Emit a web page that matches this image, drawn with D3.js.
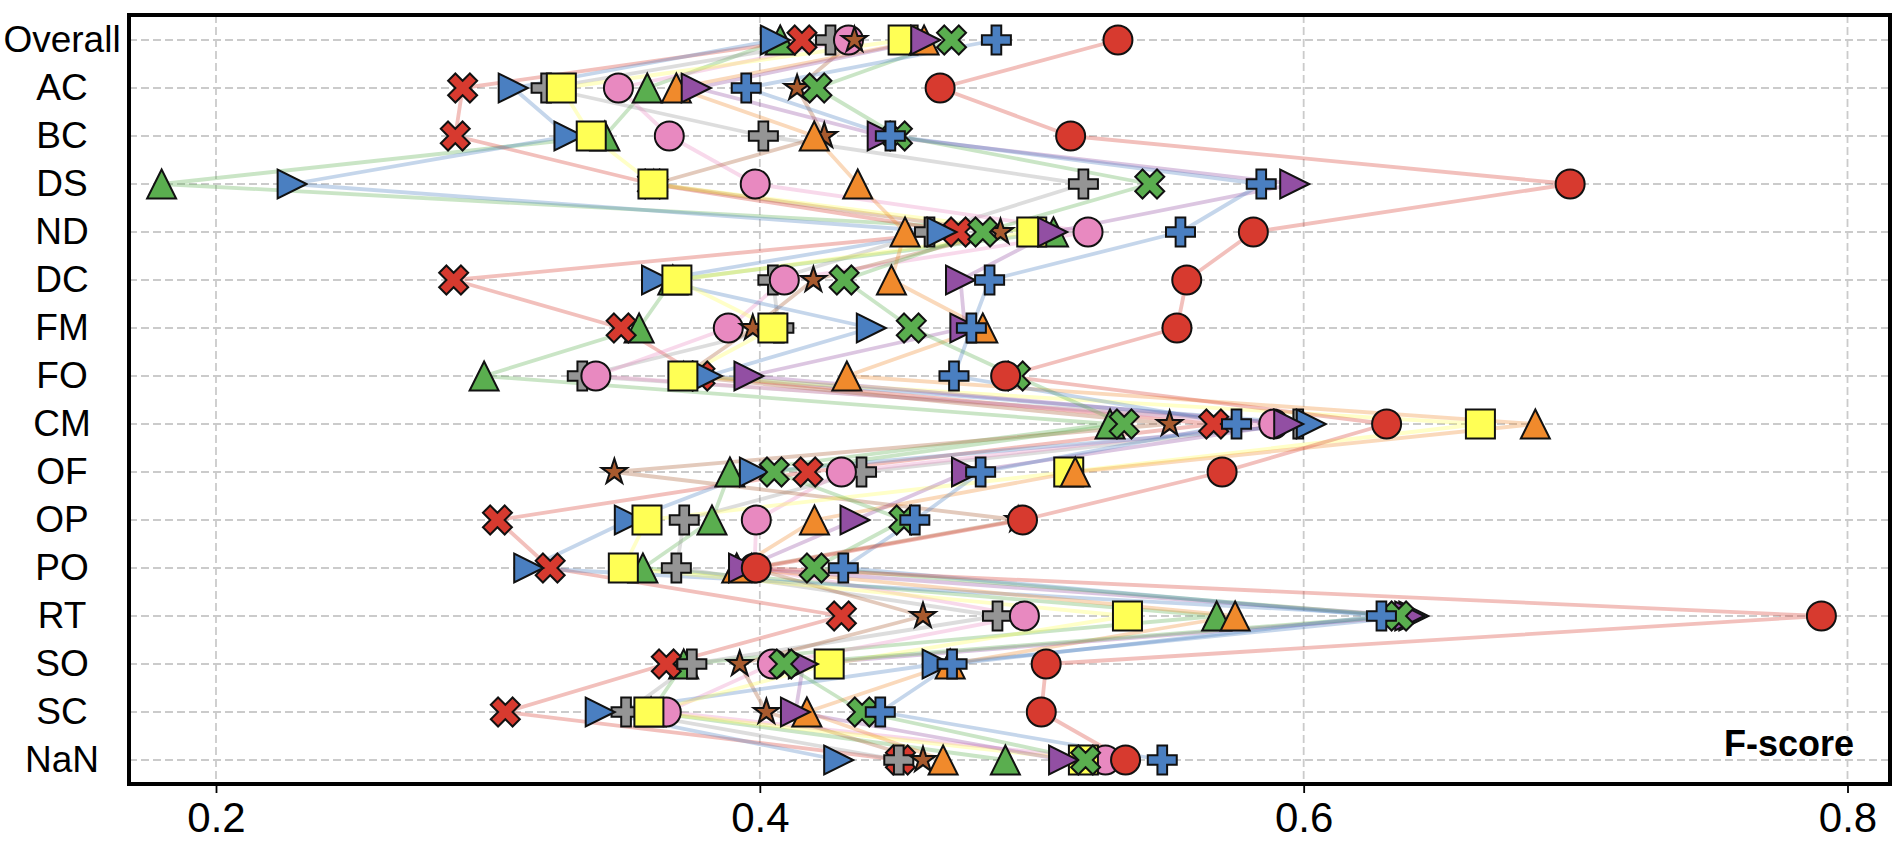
<!DOCTYPE html>
<html>
<head>
<meta charset="utf-8">
<script src="https://cdn.jsdelivr.net/npm/d3@7"></script>
<style>
  body { margin: 0; background: #fff; }
  svg { display: block; font-family: "Liberation Sans", Arial, sans-serif; }
</style>
</head>
<body>
<div class="chart"></div>
<script>
// categories, top to bottom
const ROWS = ["Overall", "AC", "BC", "DS", "ND", "DC", "FM", "FO", "CM", "OF", "OP", "PO", "RT", "SO", "SC", "NaN"];
const X_TICKS = [0.2, 0.4, 0.6, 0.8];

// F-score per category, one array per series
const greenTri   = [0.4075, 0.3586, 0.343, 0.180, 0.508, 0.368, 0.3556, 0.2986, 0.5288, 0.389, 0.3824, 0.357, 0.568, 0.372, 0.360, 0.4903];
const redX       = [0.4155, 0.2907, 0.288, 0.3605, 0.473, 0.2874, 0.349, 0.378, 0.5669, 0.4177, 0.3035, 0.3229, 0.430, 0.3656, 0.3064, 0.4517];
const grayPlus   = [0.426, 0.3214, 0.4013, 0.519, 0.4624, 0.4048, 0.407, 0.3347, 0.598, 0.4374, 0.3722, 0.3693, 0.4874, 0.375, 0.3508, 0.4511];
const pinkCircle = [0.4326, 0.348, 0.3667, 0.3983, 0.5207, 0.409, 0.3884, 0.3397, 0.589, 0.430, 0.3987, 0.398, 0.4973, 0.4046, 0.3656, 0.5271];
const brownStar  = [0.4348, 0.4137, 0.4237, 0.361, 0.4885, 0.4197, 0.3974, 0.372, 0.5507, 0.3465, 0.495, 0.397, 0.460, 0.3926, 0.4024, 0.460];
const blueTri    = [0.4057, 0.3093, 0.3298, 0.228, 0.467, 0.362, 0.441, 0.3807, 0.6028, 0.398, 0.352, 0.315, 0.6405, 0.4652, 0.3413, 0.429];
const yellowSq   = [0.4527, 0.327, 0.338, 0.3607, 0.500, 0.3695, 0.4048, 0.3717, 0.665, 0.5136, 0.3585, 0.3498, 0.5352, 0.4255, 0.3592, 0.519];
const orangeTri  = [0.4604, 0.3693, 0.420, 0.436, 0.4534, 0.4484, 0.482, 0.432, 0.6852, 0.516, 0.4201, 0.3915, 0.5748, 0.470, 0.4173, 0.4674];
const purpleTri  = [0.461, 0.3766, 0.445, 0.5967, 0.5077, 0.4738, 0.4754, 0.396, 0.5945, 0.476, 0.435, 0.394, 0.639, 0.416, 0.4131, 0.5117];
const greenX     = [0.4705, 0.421, 0.4506, 0.5434, 0.482, 0.431, 0.4557, 0.494, 0.534, 0.4053, 0.453, 0.420, 0.635, 0.4089, 0.4376, 0.5198];
const bluePlus   = [0.487, 0.395, 0.448, 0.5844, 0.5547, 0.4845, 0.4778, 0.4714, 0.5753, 0.4812, 0.457, 0.4307, 0.6286, 0.4707, 0.4443, 0.548];
const redCircle  = [0.5317, 0.4663, 0.5143, 0.698, 0.5815, 0.557, 0.5534, 0.4904, 0.6305, 0.570, 0.4966, 0.3987, 0.7904, 0.5053, 0.5035, 0.5345];

// marker shapes, sized by full width like matplotlib markers
const mCircle = { draw(c, s) { c.arc(0, 0, s / 2, 0, 2 * Math.PI); } };
const mSquare = { draw(c, s) { c.rect(-s / 2, -s / 2, s, s); } };
const mTriUp = { draw(c, s) { c.moveTo(0, -s / 2); c.lineTo(s / 2, s / 2); c.lineTo(-s / 2, s / 2); c.closePath(); } };
const mTriRight = { draw(c, s) { c.moveTo(s / 2, 0); c.lineTo(-s / 2, s / 2); c.lineTo(-s / 2, -s / 2); c.closePath(); } };
const mStar = { draw(c, s) {
  const ro = s * 0.46, ri = ro * 0.382;
  for (let i = 0; i < 10; i++) {
    const r = i % 2 ? ri : ro, a = -Math.PI / 2 + i * Math.PI / 5;
    i ? c.lineTo(r * Math.cos(a), r * Math.sin(a)) : c.moveTo(r * Math.cos(a), r * Math.sin(a));
  }
  c.closePath();
} };
function polyType(pts, div) {
  return { draw(c, s) {
    pts.forEach((p, i) => i ? c.lineTo(p[0] * s / div, p[1] * s / div) : c.moveTo(p[0] * s / div, p[1] * s / div));
    c.closePath();
  } };
}
const mPlus = polyType([[-1, -3], [1, -3], [1, -1], [3, -1], [3, 1], [1, 1], [1, 3], [-1, 3], [-1, 1], [-3, 1], [-3, -1], [-1, -1]], 6);
const mX = polyType([[-1, -2], [0, -1], [1, -2], [2, -1], [1, 0], [2, 1], [1, 2], [0, 1], [-1, 2], [-2, 1], [-1, 0], [-2, -1]], 4);

// draw order: first listed ends up underneath
const series = [
  { values: greenTri,   color: "#5aae4f", shape: mTriUp },
  { values: redX,       color: "#d73a2f", shape: mX },
  { values: grayPlus,   color: "#959595", shape: mPlus },
  { values: pinkCircle, color: "#e889c0", shape: mCircle },
  { values: brownStar,  color: "#a85a2e", shape: mStar },
  { values: blueTri,    color: "#4a7fc1", shape: mTriRight },
  { values: yellowSq,   color: "#ffff55", shape: mSquare },
  { values: orangeTri,  color: "#f08a2c", shape: mTriUp },
  { values: purpleTri,  color: "#924fa3", shape: mTriRight },
  { values: greenX,     color: "#5aae4f", shape: mX },
  { values: bluePlus,   color: "#4a7fc1", shape: mPlus },
  { values: redCircle,  color: "#d73a2f", shape: mCircle },
];

const W = 1899, H = 842;
const frame = { left: 129, right: 1890, top: 15, bottom: 784 };
const MARK = 29;

const svg = d3.select(".chart").append("svg").attr("width", W).attr("height", H);

const xScale = d3.scaleLinear().domain([0.2, 0.8]).range([216, 1847.5]);
const yScale = d3.scalePoint().domain(ROWS).range([40, 760]);

// grid
const grid = svg.append("g").attr("stroke", "#cbcbcb").attr("stroke-width", 1.8).attr("stroke-dasharray", "8,4");
grid.selectAll(".gx").data(X_TICKS).join("line")
  .attr("x1", d => xScale(d)).attr("x2", d => xScale(d))
  .attr("y1", frame.top).attr("y2", frame.bottom);
grid.selectAll(".gy").data(ROWS).join("line")
  .attr("x1", frame.left).attr("x2", frame.right)
  .attr("y1", d => yScale(d)).attr("y2", d => yScale(d));

// connecting lines
const line = d3.line().x(d => xScale(d[0])).y(d => yScale(d[1]));
svg.append("g").selectAll("path").data(series).join("path")
  .attr("d", s => line(s.values.map((v, i) => [v, ROWS[i]])))
  .attr("fill", "none")
  .attr("stroke", s => s.color)
  .attr("stroke-opacity", 0.32)
  .attr("stroke-width", 3.8)
  .attr("stroke-linejoin", "round");

// markers
const marks = svg.append("g");
series.forEach(s => {
  const sym = d3.symbol().type(s.shape).size(MARK);
  marks.append("g").selectAll("path").data(s.values).join("path")
    .attr("transform", (v, i) => `translate(${xScale(v)},${yScale(ROWS[i])})`)
    .attr("d", sym)
    .attr("fill", s.color)
    .attr("stroke", "#111")
    .attr("stroke-width", 2)
    .attr("stroke-linejoin", "miter");
});

// frame
svg.append("rect")
  .attr("x", frame.left).attr("y", frame.top)
  .attr("width", frame.right - frame.left).attr("height", frame.bottom - frame.top)
  .attr("fill", "none").attr("stroke", "#000").attr("stroke-width", 4);

// x axis
const xAxis = svg.append("g").attr("transform", `translate(0,${frame.bottom})`)
  .call(d3.axisBottom(xScale).tickValues(X_TICKS).tickFormat(d3.format(".1f")).tickSize(9).tickPadding(9));
xAxis.select(".domain").remove();
xAxis.selectAll(".tick line").attr("stroke", "#000").attr("stroke-width", 1.8);
xAxis.selectAll(".tick text").attr("font-size", 42).attr("fill", "#000")
  .attr("font-family", "Liberation Sans, Arial, sans-serif");

// y axis, labels centred in the left gutter
const yAxis = svg.append("g").attr("transform", `translate(${frame.left},0)`)
  .call(d3.axisLeft(yScale).tickSize(0));
yAxis.select(".domain").remove();
yAxis.selectAll(".tick text")
  .attr("x", -67).attr("text-anchor", "middle")
  .attr("font-size", 37).attr("fill", "#000")
  .attr("font-family", "Liberation Sans, Arial, sans-serif");

// metric label
svg.append("text")
  .attr("x", 1854).attr("y", 756)
  .attr("text-anchor", "end")
  .attr("font-size", 36).attr("font-weight", "bold")
  .text("F-score");
</script>
</body>
</html>
